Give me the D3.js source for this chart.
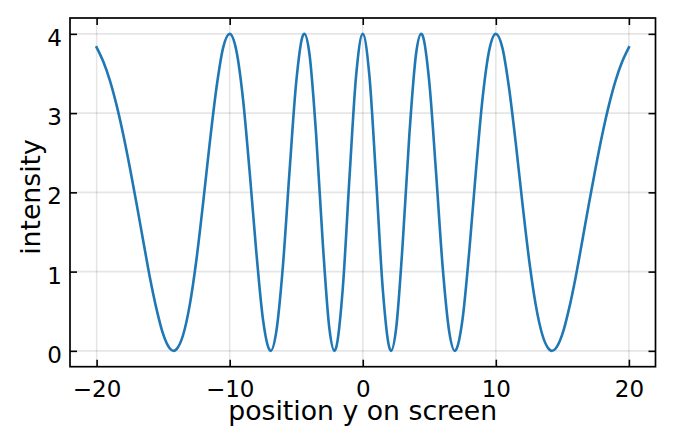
<!DOCTYPE html>
<meta charset="utf-8">
<style>
    body {
        margin: 0;
        background: #fff;
    }

    svg text {
        font-family: "DejaVu Sans";
        fill: #000;
    }
</style>
<svg width="674" height="446"></svg>
<script src="https://cdnjs.cloudflare.com/ajax/libs/d3/7.8.5/d3.min.js"></script>
<script>
    // screen positions and intensity at each of them
    var positions = [
        -20, -19.5, -19, -18.5, -18, -17.5, -17, -16.5, -16, -15.5, -15, -14.5, -14.21, -14,
        -13.5, -13, -12.5, -12, -11.5, -11, -10.5, -10, -9.5, -9, -8.5, -8, -7.5, -7, -6.92,
        -6.5, -6, -5.5, -5, -4.5, -4.39, -4, -3.5, -3, -2.5, -2.13, -2, -1.5, -1, -0.5,
        0,
        0.5, 1, 1.5, 2, 2.13, 2.5, 3, 3.5, 4, 4.39, 4.5, 5, 5.5, 6, 6.5,
        6.92, 7, 7.5, 8, 8.5, 9, 9.5, 10, 10.5, 11, 11.5, 12, 12.5, 13, 13.5,
        14, 14.21, 14.5, 15, 15.5, 16, 16.5, 17, 17.5, 18, 18.5, 19, 19.5, 20
    ];
    var intensity = [
        3.83, 3.65, 3.41, 3.10, 2.73, 2.31, 1.86, 1.39, 0.93, 0.53, 0.21, 0.03, 0.00, 0.02,
        0.20, 0.58, 1.15, 1.86, 2.62, 3.31, 3.82, 4.00, 3.79, 3.18, 2.26, 1.25, 0.40, 0.01, 0.00,
        0.24, 1.07, 2.27, 3.39, 3.98, 4.00, 3.74, 2.72, 1.35, 0.27, 0.00, 0.04, 0.79, 2.18, 3.47,
        4.00,
        3.47, 2.18, 0.79, 0.04, 0.00, 0.27, 1.35, 2.72, 3.74, 4.00, 3.98, 3.39, 2.27, 1.07, 0.24,
        0.00, 0.01, 0.40, 1.25, 2.26, 3.18, 3.79, 4.00, 3.82, 3.31, 2.62, 1.86, 1.15, 0.58, 0.20,
        0.02, 0.00, 0.03, 0.21, 0.53, 0.93, 1.39, 1.86, 2.31, 2.73, 3.10, 3.41, 3.65, 3.83
    ];
    var xTicks = [-20, -10, 0, 10, 20];
    var yTicks = [0, 1, 2, 3, 4];

    var svg = d3.select("svg");

    var plotLeft = 70, plotRight = 655.5, plotTop = 18, plotBottom = 366.7;
    var tickFont = "23px", labelFont = "26.7px";

    var x = d3.scaleLinear().domain([-22, 22]).range([plotLeft, plotRight]);
    var y = d3.scaleLinear().domain([-0.2, 4.2]).range([plotBottom, plotTop]);

    // grid
    var grid = svg.append("g")
        .style("stroke", "#000")
        .style("stroke-opacity", 0.1)
        .style("stroke-width", 1.6);

    grid.selectAll(".gx")
        .data(xTicks)
        .enter().append("line")
        .attr("x1", d => x(d)).attr("x2", d => x(d))
        .attr("y1", plotTop).attr("y2", plotBottom);

    grid.selectAll(".gy")
        .data(yTicks)
        .enter().append("line")
        .attr("y1", d => y(d)).attr("y2", d => y(d))
        .attr("x1", plotLeft).attr("x2", plotRight);

    // the curve
    var pts = positions.map(function (p, i) {
        return [p, intensity[i]];
    });

    var line = d3.line()
        .x(d => x(d[0]))
        .y(d => y(d[1]))
        .curve(d3.curveMonotoneX);

    svg.append("path")
        .datum(pts)
        .attr("d", line)
        .style("fill", "none")
        .style("stroke", "#1f77b4")
        .style("stroke-width", 2.6)
        .style("stroke-linejoin", "round")
        .style("stroke-linecap", "square");

    // axes, ticks pointing inward on all four sides
    function styleAxis(g) {
        g.select(".domain").remove();
        g.selectAll(".tick line")
            .style("stroke", "#000")
            .style("stroke-width", 1.6);
    }

    var bottomAxis = svg.append("g")
        .attr("transform", "translate(0," + plotBottom + ")")
        .call(d3.axisBottom(x).tickValues(xTicks).tickSize(-7).tickSizeOuter(0)
            .tickFormat(d => d < 0 ? "\u2212" + Math.abs(d) : d))
        .call(styleAxis);
    bottomAxis.selectAll(".tick text")
        .attr("y", 30)
        .attr("dy", null)
        .style("font-size", tickFont)
        .style("font-family", "DejaVu Sans");

    svg.append("g")
        .attr("transform", "translate(0," + plotTop + ")")
        .call(d3.axisTop(x).tickValues(xTicks).tickSize(-7).tickSizeOuter(0).tickFormat(""))
        .call(styleAxis);

    var leftAxis = svg.append("g")
        .attr("transform", "translate(" + plotLeft + ",0)")
        .call(d3.axisLeft(y).tickValues(yTicks).tickSize(-7).tickSizeOuter(0)
            .tickFormat(d3.format("d")))
        .call(styleAxis);
    leftAxis.selectAll(".tick text")
        .attr("x", -8)
        .attr("dy", "11.5px")
        .style("font-size", tickFont)
        .style("font-family", "DejaVu Sans");

    svg.append("g")
        .attr("transform", "translate(" + plotRight + ",0)")
        .call(d3.axisRight(y).tickValues(yTicks).tickSize(-7).tickSizeOuter(0).tickFormat(""))
        .call(styleAxis);

    // frame
    svg.append("rect")
        .attr("x", plotLeft)
        .attr("y", plotTop)
        .attr("width", plotRight - plotLeft)
        .attr("height", plotBottom - plotTop)
        .style("fill", "none")
        .style("stroke", "#000")
        .style("stroke-width", 1.7);

    // labels
    svg.append("text")
        .attr("x", (plotLeft + plotRight) / 2)
        .attr("y", 420)
        .attr("text-anchor", "middle")
        .style("font-size", labelFont)
        .text("position y on screen");

    svg.append("text")
        .attr("transform", "translate(39.5,197) rotate(-90)")
        .attr("text-anchor", "middle")
        .style("font-size", labelFont)
        .text("intensity");
</script>
